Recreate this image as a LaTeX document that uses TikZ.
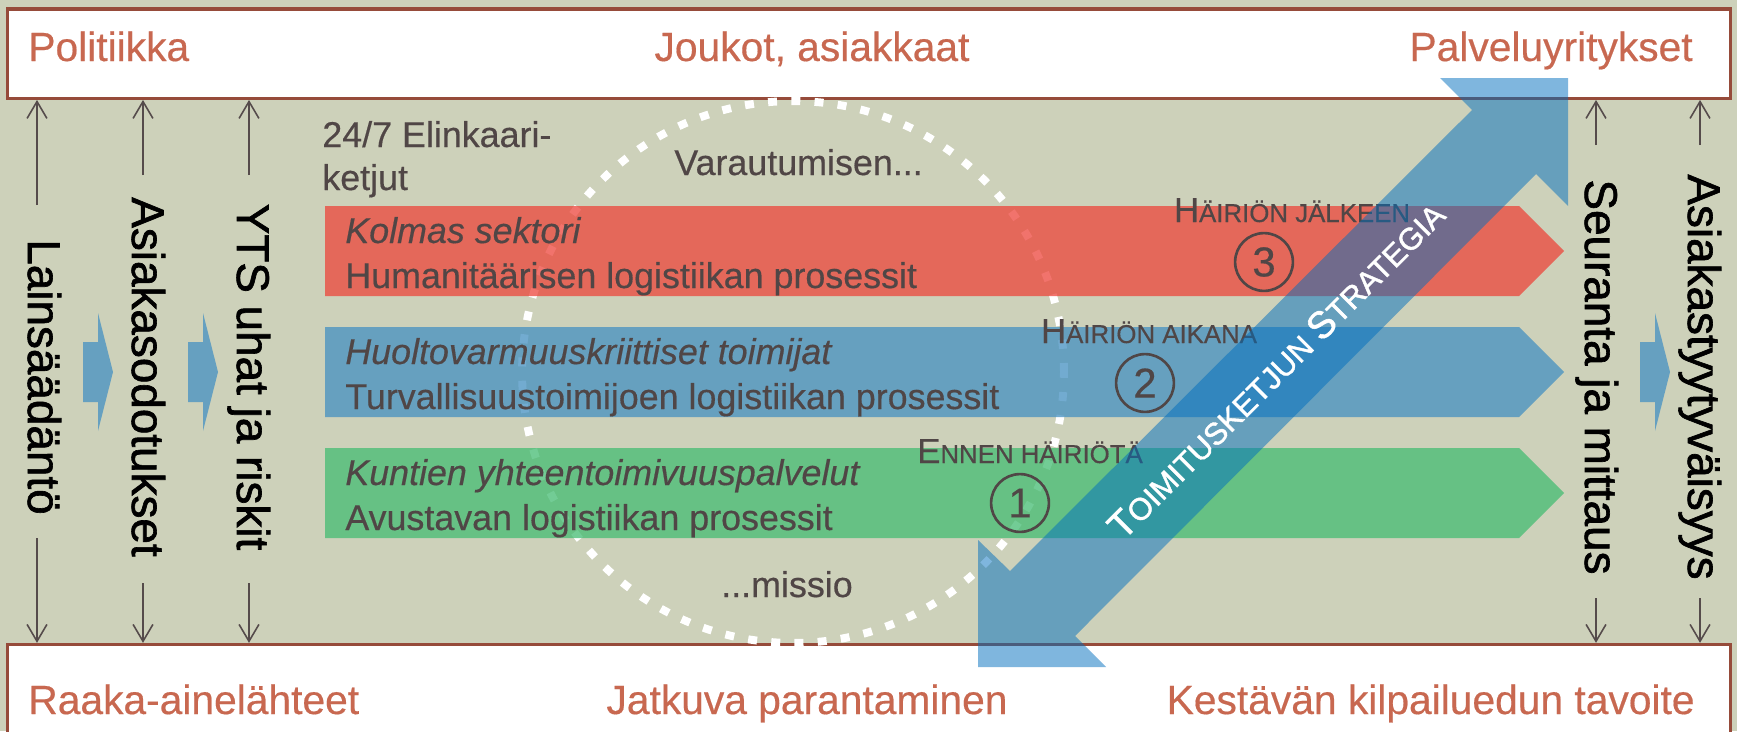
\documentclass[tikz,border=0pt]{standalone}
\usepackage{fontspec}
\setmainfont{Liberation Sans}[FakeBold=0.4]
\newfontfamily\heavyfont{Liberation Sans}[FakeBold=1.4]
\usepackage{tikz}
\usetikzlibrary{arrows.meta}
\definecolor{bgolive}{RGB}{205,209,186}
\definecolor{framebrown}{RGB}{150,75,58}
\definecolor{lblred}{RGB}{200,104,80}
\definecolor{txtgray}{RGB}{80,70,70}
\definecolor{arrgray}{RGB}{85,75,75}
\definecolor{bandred}{RGB}{237,69,59}
\definecolor{bandblue}{RGB}{68,144,193}
\definecolor{bandgreen}{RGB}{68,188,114}
\definecolor{pushblue}{RGB}{102,160,192}
\definecolor{stratblue}{RGB}{0,110,190}
\newcommand{\fsc}[3]{#2{\fontsize{#1}{#1}\selectfont #3}}

\begin{document}
\begin{tikzpicture}[x=0.02cm, y=-0.02cm,
		panel/.style={draw=framebrown, line width=1.9pt, fill=white, inner sep=0pt, minimum width=34.46cm},
		boxlbl/.style={text=lblred, inner sep=0pt, font=\fontsize{23.2}{28}\selectfont},
		sidelbl/.style={rotate=-90, anchor=base, inner sep=0pt, font=\heavyfont\fontsize{26.1}{31}\selectfont},
		bandtxt/.style={text=txtgray, anchor=base west, inner sep=0pt, font=\fontsize{20.4}{24}\selectfont},
		phase/.style={text=txtgray, anchor=base, inner sep=0pt, font=\fontsize{19.8}{24}\selectfont},
		numring/.style={circle, draw=txtgray, line width=1.5pt, minimum size=32.9pt, inner sep=0pt, text=txtgray, font=\fontsize{23.8}{24}\selectfont},
		flow/.style={draw=arrgray, line width=0.9pt, -{Straight Barb[length=9.6pt,width=11.3pt]}},
		push/.style={fill=pushblue},
		dotring/.style={draw=white, line width=4.5pt, dash pattern=on 5.1pt off 8.13pt},
		stratlbl/.style={text=white, rotate=45, inner sep=0pt, font=\heavyfont\fontsize{21.5}{24}\selectfont}]
			\clip (0,0) rectangle (1737,731);
			\fill[bgolive] (0,0) rectangle (1737,731);
			\node[panel, minimum height=1.786cm] (top) at (869,53.65) {};
			\node[panel, minimum height=2.31cm] (bot) at (869,702.25) {};
			\node[boxlbl, anchor=base west] (politics) at (28,61) {Politiikka};
			\node[boxlbl, anchor=base] (troops) at (812,61) {Joukot, asiakkaat};
			\node[boxlbl, anchor=base east] (services) at (1693,61) {Palveluyritykset};
			\node[boxlbl, anchor=base west] (sources) at (28,714) {Raaka-ainelähteet};
			\node[boxlbl, anchor=base] (improve) at (807,714) {Jatkuva parantaminen};
			\node[boxlbl, anchor=base east] (goal) at (1695,714) {Kestävän kilpailuedun tavoite};
			\coordinate (ringc) at (793,372);
			\draw[dotring] (ringc) circle [radius=5.42cm];
			\foreach \y/\c in {206/bandred, 327/bandblue, 448/bandgreen}
				\fill[\c, fill opacity=0.75] (325,\y) -- (1519,\y) -- (1564,\y+45) -- (1519,\y+90) -- (325,\y+90) -- cycle;
			\node[bandtxt] (chainA) at (322,147) {24/7 Elinkaari-};
			\node[bandtxt] (chainB) at (322,190) {ketjut};
			\node[bandtxt] (prep) at (674,175) {Varautumisen...};
			\node[bandtxt, anchor=base] (mission) at (787,597) {...missio};
			\node[bandtxt] (redA) at (345,243) {\itshape Kolmas sektori};
			\node[bandtxt] (redB) at (345,288) {Humanitäärisen logistiikan prosessit};
			\node[bandtxt] (blueA) at (345,364) {\itshape Huoltovarmuuskriittiset toimijat};
			\node[bandtxt] (blueB) at (345,409) {Turvallisuustoimijoen logistiikan prosessit};
			\node[bandtxt] (greenA) at (345,485) {\itshape Kuntien yhteentoimivuuspalvelut};
			\node[bandtxt] (greenB) at (345,530) {Avustavan logistiikan prosessit};
			\node[sidelbl] (law) at (28,377) {Lainsäädäntö};
			\node[sidelbl] (expect) at (132,377) {Asiakasodotukset};
			\node[sidelbl] (risks) at (237,377) {YTS uhat ja riskit};
			\node[sidelbl] (follow) at (1585,377) {Seuranta ja mittaus};
			\node[sidelbl] (satisf) at (1688,377) {Asiakastyytyväisyys};
			\foreach \n/\x/\ya/\yb in {a/37/205/538, b/143/175/583, c/249/175/583, d/1596/145/598, e/1700/145/598}{
				\coordinate (up\n) at (\x,\ya);
				\coordinate (dn\n) at (\x,\yb);
				\draw[flow] (up\n) -- (up\n |- top.south);
				\draw[flow] (dn\n) -- (dn\n |- bot.north);
			}
			\foreach \x in {83, 188, 1640}
				\fill[push] (\x,342) -- ++(15,0) -- ++(0,-29) -- ++(15,59) -- ++(-15,59) -- ++(0,-29) -- ++(-15,0) -- cycle;
			\node[phase] (after) at (1292,222) {\fsc{14.7}{H}{ÄIRIÖN JÄLKEEN}};
			\node[phase] (during) at (1149,343) {\fsc{14.7}{H}{ÄIRIÖN AIKANA}};
			\node[phase] (before) at (1030,463) {\fsc{14.7}{E}{NNEN HÄIRIÖTÄ}};
			\node[numring] (n3) at (1264,262) {3};
			\node[numring] (n2) at (1145,383) {2};
			\node[numring] (n1) at (1020,503) {1};
			\fill[stratblue, fill opacity=0.5] (1568,78) -- (1568,206) -- (1536,174) -- (1075,636) -- (1106,667) -- (978,667) -- (978,540) -- (1010,571) -- (1472,110) -- (1440,78) -- cycle;
			\node[stratlbl] (strat) at (1276,370) {\fsc{17.6}{T}{OIMITUSKETJUN }\fsc{17.6}{S}{TRATEGIA}};
		\end{tikzpicture}
\end{document}
